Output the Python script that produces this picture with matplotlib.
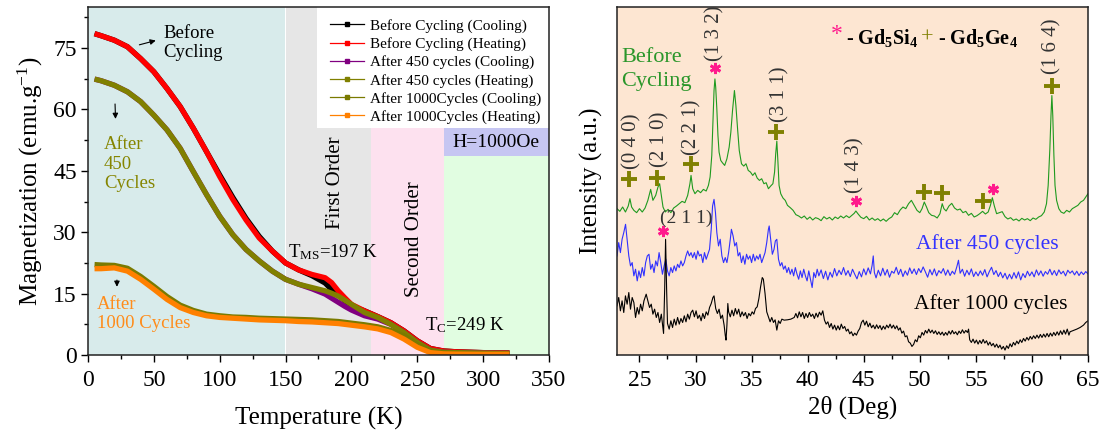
import matplotlib
matplotlib.use('Agg')
import matplotlib.pyplot as plt
from matplotlib.lines import Line2D
from matplotlib.patches import Rectangle
from matplotlib.ticker import MultipleLocator

plt.rcParams['font.family'] = ['Liberation Serif', 'DejaVu Serif']
plt.rcParams['mathtext.fontset'] = 'custom'
plt.rcParams['mathtext.rm'] = 'Liberation Serif'
plt.rcParams['mathtext.it'] = 'Liberation Serif:italic'
plt.rcParams['mathtext.bf'] = 'Liberation Serif:bold'

# ---- M(T) data
temp = [5, 10, 20, 30, 40, 50, 60, 70, 80, 90, 100, 110, 120, 130, 140, 150, 160,
        170, 180, 185, 190, 195, 200, 210, 220, 230, 240, 250, 260, 270, 280, 300, 320]
m_before_cool = [78.5, 78.0, 76.9, 75.3, 72.4, 69.2, 65.1, 60.7, 55.4, 49.7, 44.0, 38.5,
                 33.4, 29.0, 25.4, 22.5, 20.8, 19.4, 17.6, 16.0, 14.6, 13.3, 12.0, 10.8,
                 9.4, 7.9, 5.9, 3.5, 1.6, 1.0, 0.8, 0.6, 0.5]
m_before_heat = [78.5, 78.0, 76.9, 75.3, 72.4, 69.2, 65.1, 60.7, 55.4, 49.7, 43.6, 38.0,
                 33.0, 28.6, 25.4, 22.5, 20.8, 19.7, 18.9, 17.7, 15.7, 14.0, 12.4, 10.8,
                 9.4, 7.9, 5.9, 3.5, 1.6, 1.0, 0.8, 0.6, 0.5]
m_450_cool = [67.4, 67.0, 65.9, 64.3, 61.9, 58.6, 55.0, 50.5, 44.8, 39.2, 33.9, 29.4,
              25.8, 23.0, 20.5, 18.5, 17.3, 16.2, 14.9, 13.9, 12.9, 11.9, 11.0, 9.6,
              8.8, 7.5, 5.5, 3.1, 1.2, 0.7, 0.6, 0.5, 0.4]
m_450_heat = [67.4, 67.0, 65.9, 64.3, 61.9, 58.6, 55.0, 50.5, 44.8, 39.2, 33.9, 29.4,
              25.8, 23.0, 20.5, 18.5, 17.3, 16.5, 15.7, 15.1, 14.4, 13.4, 12.4, 10.4,
              9.2, 7.5, 5.5, 3.1, 1.2, 0.7, 0.6, 0.5, 0.4]
m_1000_cool = [22.1, 22.0, 21.9, 21.2, 19.2, 16.8, 14.3, 12.2, 10.9, 10.0, 9.6, 9.3,
               9.2, 9.0, 8.9, 8.8, 8.7, 8.6, 8.4, 8.3, 8.2, 8.0, 7.8, 7.4, 6.9, 6.0,
               4.7, 2.6, 1.0, 0.5, 0.4, 0.35, 0.3]
m_1000_heat = [21.1, 21.1, 21.3, 20.5, 18.5, 16.1, 13.6, 11.6, 10.4, 9.6, 9.2, 9.0,
               8.8, 8.6, 8.5, 8.4, 8.2, 8.1, 7.9, 7.8, 7.7, 7.5, 7.3, 6.9, 6.4, 5.5,
               3.9, 1.9, 0.6, 0.3, 0.25, 0.2, 0.2]

series_labels = ['Before Cycling (Cooling)', 'Before Cycling (Heating)',
                 'After 450 cycles (Cooling)', 'After 450 cycles (Heating)',
                 'After 1000Cycles (Cooling)', 'After 1000Cycles (Heating)']
series_colors = ['#000000', '#ff0000', '#800080', '#808000', '#7a7a00', '#ff8000']

# ---- XRD data (arbitrary units)
tt_before = [23.0, 23.25, 23.5, 23.75, 24.0, 24.15, 24.3, 24.5, 24.75, 25.0,
             25.25, 25.5, 25.75, 26.0, 26.2, 26.45, 26.65, 26.8, 26.95, 27.1,
             27.3, 27.55, 27.8, 28.05, 28.3, 28.55, 28.8, 29.05, 29.3, 29.5,
             29.6, 29.75, 29.95, 30.2, 30.45, 30.7, 30.95, 31.15, 31.3, 31.45,
             31.55, 31.65, 31.73, 31.8, 31.9, 32.0, 32.1, 32.25, 32.4, 32.6,
             32.8, 33.0, 33.15, 33.3, 33.47, 33.6, 33.75, 33.9, 34.1, 34.3,
             34.5, 34.7, 34.9, 35.1, 35.3, 35.5, 35.7, 35.9, 36.1, 36.3,
             36.5, 36.7, 36.9, 37.05, 37.15, 37.25, 37.35, 37.45, 37.6, 37.8,
             38.0, 38.2, 38.45, 38.7, 38.95, 39.2, 39.45, 39.7, 39.95, 40.2,
             40.45, 40.7, 40.95, 41.2, 41.45, 41.7, 41.95, 42.2, 42.45, 42.7,
             42.95, 43.2, 43.45, 43.7, 43.95, 44.15, 44.3, 44.5, 44.75, 45.0,
             45.25, 45.5, 45.75, 46.0, 46.25, 46.5, 46.75, 47.0, 47.25, 47.5,
             47.75, 48.0, 48.25, 48.5, 48.75, 49.0, 49.25, 49.5, 49.75, 50.0,
             50.2, 50.4, 50.6, 50.8, 51.05, 51.3, 51.55, 51.8, 52.0, 52.15,
             52.35, 52.6, 52.85, 53.1, 53.35, 53.6, 53.85, 54.1, 54.35, 54.6,
             54.85, 55.1, 55.35, 55.6, 55.85, 56.1, 56.3, 56.47, 56.65, 56.85,
             57.1, 57.35, 57.6, 57.85, 58.1, 58.35, 58.6, 58.85, 59.1, 59.35,
             59.6, 59.85, 60.1, 60.35, 60.6, 60.85, 61.1, 61.3, 61.45, 61.6,
             61.7, 61.78, 61.86, 61.96, 62.06, 62.2, 62.4, 62.6, 62.85, 63.1,
             63.35, 63.6, 63.85, 64.1, 64.35, 64.6, 64.8, 65.0]
int_before = [44.0, 43.2, 44.5, 43.0, 44.8, 47.0, 44.5, 43.5, 42.8, 44.0,
              43.0, 44.2, 46.5, 49.8, 46.5, 48.0, 50.5, 51.5, 48.0, 44.5,
              43.0, 43.8, 42.8, 44.2, 44.8, 45.5, 46.2, 45.8, 48.0, 51.5,
              54.0, 50.0, 48.5, 49.5, 48.8, 49.8, 49.3, 51.0, 53.5, 60.0,
              70.0, 79.5, 83.0, 80.5, 74.0, 66.0, 61.0, 58.5, 57.8, 57.0,
              59.0, 62.5, 67.0, 73.5, 79.5, 75.0, 68.0, 61.5, 57.5, 56.8,
              57.5, 55.5, 55.0, 54.0, 54.8, 53.2, 52.5, 53.0, 51.5, 51.8,
              50.0, 50.8, 51.5, 55.0, 60.5, 64.3, 58.0, 51.0, 48.5, 47.2,
              46.5, 45.0, 44.3, 43.5, 42.2, 41.8, 41.2, 41.8, 40.8, 41.5,
              40.6, 41.3, 41.0, 40.4, 41.6, 40.9, 41.4, 40.6, 41.5, 41.0,
              41.8, 41.2, 41.9, 41.3, 42.0, 42.6, 43.3, 42.4, 41.4, 41.0,
              41.7, 40.6, 41.2, 40.5, 41.0, 40.3, 40.9, 40.2, 41.0, 41.5,
              42.8, 42.2, 43.6, 44.5, 44.0, 45.5, 46.5, 45.0, 43.5, 42.8,
              44.0, 46.0, 44.5, 42.8, 42.0, 41.8, 41.2, 42.5, 45.5, 44.0,
              43.3, 44.8, 45.6, 44.2, 43.6, 43.9, 42.8, 43.2, 42.0, 42.6,
              41.5, 41.9, 42.5, 43.2, 42.4, 43.0, 45.0, 47.3, 44.8, 42.5,
              42.8, 43.1, 41.6, 40.9, 41.3, 40.5, 40.9, 40.3, 41.1, 40.6,
              41.0, 40.4, 41.2, 40.8, 41.5, 41.9, 43.0, 45.5, 51.0, 62.0,
              72.0, 78.0, 72.0, 60.0, 51.0, 46.5, 44.0, 43.0, 42.6, 43.5,
              43.0, 44.0, 44.5, 45.0, 46.0, 46.5, 47.5, 48.5]

tt_450 = [23.0, 23.15, 23.3, 23.45, 23.6, 23.76, 23.9, 24.05, 24.2, 24.35,
          24.5, 24.65, 24.8, 24.95, 25.1, 25.25, 25.4, 25.55, 25.7, 25.85,
          26.0, 26.15, 26.3, 26.45, 26.6, 26.75, 26.9, 27.05, 27.2, 27.35,
          27.5, 27.65, 27.8, 27.95, 28.1, 28.25, 28.4, 28.55, 28.7, 28.85,
          29.0, 29.15, 29.3, 29.45, 29.6, 29.75, 29.9, 30.05, 30.2, 30.35,
          30.5, 30.65, 30.8, 30.95, 31.1, 31.25, 31.4, 31.52, 31.65, 31.78,
          31.9, 32.05, 32.2, 32.35, 32.5, 32.65, 32.8, 32.95, 33.1, 33.2,
          33.35, 33.5, 33.65, 33.8, 33.95, 34.1, 34.25, 34.4, 34.55, 34.7,
          34.85, 35.0, 35.15, 35.3, 35.45, 35.6, 35.75, 35.9, 36.05, 36.2,
          36.35, 36.5, 36.57, 36.7, 36.85, 37.0, 37.12, 37.25, 37.4, 37.55,
          37.7, 37.85, 38.0, 38.15, 38.3, 38.45, 38.6, 38.75, 38.9, 39.05,
          39.2, 39.35, 39.5, 39.65, 39.8, 39.95, 40.1, 40.25, 40.4, 40.55,
          40.7, 40.85, 41.0, 41.2, 41.4, 41.6, 41.8, 42.0, 42.2, 42.4,
          42.6, 42.8, 43.0, 43.2, 43.4, 43.6, 43.8, 44.0, 44.2, 44.4,
          44.6, 44.8, 45.0, 45.2, 45.4, 45.6, 45.75, 45.85, 45.95, 46.1,
          46.3, 46.5, 46.7, 46.9, 47.1, 47.3, 47.5, 47.7, 47.9, 48.1,
          48.3, 48.5, 48.7, 48.9, 49.1, 49.3, 49.5, 49.7, 49.9, 50.1,
          50.3, 50.5, 50.7, 50.9, 51.1, 51.3, 51.5, 51.7, 51.9, 52.1,
          52.3, 52.5, 52.7, 52.9, 53.1, 53.3, 53.45, 53.6, 53.8, 54.0,
          54.2, 54.4, 54.6, 54.8, 55.0, 55.2, 55.4, 55.6, 55.8, 56.0,
          56.2, 56.4, 56.6, 56.8, 57.0, 57.2, 57.4, 57.6, 57.8, 58.0,
          58.2, 58.4, 58.6, 58.8, 59.0, 59.2, 59.4, 59.6, 59.8, 60.0,
          60.2, 60.4, 60.6, 60.8, 61.0, 61.2, 61.4, 61.6, 61.8, 62.0,
          62.2, 62.4, 62.6, 62.8, 63.0, 63.2, 63.4, 63.6, 63.8, 64.0,
          64.2, 64.4, 64.6, 64.8, 65.0]
int_450 = [29.8, 33.8, 30.8, 34.8, 36.8, 39.3, 34.8, 29.8, 26.8, 27.8,
           23.8, 25.8, 22.3, 25.3, 23.3, 26.3, 23.8, 27.8, 29.8, 30.3,
           25.8, 27.3, 24.8, 28.3, 26.8, 30.8, 27.8, 24.3, 26.8, 28.8,
           25.3, 23.8, 26.3, 24.8, 26.8, 25.3, 27.3, 26.3, 28.3, 26.8,
           27.8, 29.8, 31.3, 29.8, 30.8, 29.3, 30.8, 28.8, 31.3, 29.8,
           30.3, 27.8, 30.8, 28.8, 30.3, 31.8, 37.8, 44.8, 46.8, 42.8,
           36.8, 32.8, 34.8, 29.8, 27.8, 29.3, 27.8, 30.8, 34.8, 37.8,
           35.8, 32.8, 33.8, 29.8, 30.8, 27.8, 29.8, 27.3, 30.3, 28.8,
           29.8, 27.8, 30.3, 28.3, 29.8, 28.8, 30.3, 27.8, 29.3, 30.8,
           33.8, 37.8, 38.8, 34.8, 30.3, 31.8, 34.3, 34.8, 28.8, 26.8,
           27.8, 25.8, 26.8, 24.8, 26.3, 24.3, 25.8, 23.8, 26.3, 24.3,
           22.8, 25.3, 23.3, 25.8, 23.8, 22.3, 25.3, 22.8, 20.3, 24.8,
           23.3, 25.8, 23.8, 25.6, 23.0, 25.2, 22.6, 24.9, 23.4, 26.0,
           23.8, 25.5, 24.2, 26.3, 24.0, 25.4, 23.6, 25.8, 24.3, 22.9,
           25.1, 23.5, 25.9, 24.1, 26.2, 24.4, 27.0, 29.8, 24.8, 23.2,
           25.5, 23.8, 26.1, 24.0, 25.7, 23.4, 25.2, 24.6, 26.4, 24.2,
           25.8, 23.6, 25.3, 24.0, 26.2, 24.5, 25.9, 24.2, 26.0, 24.8,
           26.5, 25.0, 23.4, 25.7, 24.1, 25.9, 23.8, 25.4, 24.6, 26.0,
           24.0, 25.6, 23.9, 25.2, 24.3, 26.5, 28.5, 24.6, 25.8, 23.7,
           25.5, 24.1, 25.9, 23.6, 25.0, 23.8, 25.3, 24.0, 25.7, 23.5,
           25.1, 26.4, 24.2, 25.4, 23.6, 24.9, 23.2, 24.6, 22.8, 24.3,
           22.9, 24.8, 23.1, 25.0, 22.6, 24.5, 23.3, 25.2, 23.8, 25.0,
           23.5, 25.6, 24.0, 25.3, 23.7, 25.1, 24.3, 25.8, 24.1, 25.4,
           23.9, 25.6, 24.4, 25.2, 23.8, 25.5, 24.6, 25.3, 24.1, 25.2,
           23.9, 25.0, 24.2, 25.1, 24.4]

tt_1000 = [23.0, 23.15, 23.3, 23.45, 23.6, 23.75, 23.9, 24.05, 24.2, 24.35,
           24.5, 24.65, 24.8, 24.95, 25.1, 25.25, 25.4, 25.6, 25.75, 25.9,
           26.05, 26.2, 26.35, 26.5, 26.65, 26.8, 26.95, 27.15, 27.25, 27.33,
           27.42, 27.5, 27.65, 27.8, 27.95, 28.1, 28.25, 28.4, 28.55, 28.7,
           28.85, 29.0, 29.15, 29.3, 29.45, 29.6, 29.75, 29.9, 30.05, 30.2,
           30.35, 30.5, 30.65, 30.8, 30.95, 31.1, 31.25, 31.4, 31.55, 31.65,
           31.8, 31.95, 32.1, 32.25, 32.4, 32.55, 32.65, 32.72, 32.8, 32.88,
           32.95, 33.1, 33.25, 33.4, 33.55, 33.7, 33.85, 34.0, 34.15, 34.3,
           34.45, 34.6, 34.75, 34.9, 35.05, 35.2, 35.35, 35.5, 35.65, 35.8,
           35.95, 36.05, 36.2, 36.35, 36.5, 36.65, 36.8, 36.95, 37.1, 37.25,
           37.4, 37.55, 37.7, 37.9, 38.2, 38.5, 38.8, 38.95, 39.1, 39.25,
           39.4, 39.55, 39.7, 39.85, 40.0, 40.15, 40.3, 40.45, 40.6, 40.75,
           40.9, 41.05, 41.2, 41.35, 41.5, 41.65, 41.8, 41.95, 42.1, 42.25,
           42.4, 42.55, 42.7, 42.85, 43.0, 43.15, 43.3, 43.45, 43.6, 43.75,
           43.9, 44.05, 44.2, 44.35, 44.5, 44.65, 44.8, 44.95, 45.1, 45.25,
           45.4, 45.55, 45.7, 45.85, 46.0, 46.15, 46.3, 46.45, 46.6, 46.75,
           46.9, 47.05, 47.2, 47.35, 47.5, 47.65, 47.8, 47.95, 48.1, 48.25,
           48.4, 48.55, 48.7, 48.85, 49.0, 49.15, 49.3, 49.45, 49.6, 49.75,
           49.9, 50.05, 50.2, 50.35, 50.5, 50.65, 50.8, 50.95, 51.1, 51.25,
           51.4, 51.55, 51.7, 51.85, 52.0, 52.15, 52.3, 52.45, 52.6, 52.75,
           52.9, 53.05, 53.2, 53.35, 53.5, 53.65, 53.8, 53.95, 54.1, 54.25,
           54.35, 54.45, 54.6, 54.75, 54.9, 55.05, 55.2, 55.35, 55.5, 55.65,
           55.8, 55.95, 56.1, 56.25, 56.4, 56.55, 56.7, 56.85, 57.0, 57.15,
           57.3, 57.45, 57.6, 57.75, 57.9, 58.05, 58.2, 58.35, 58.5, 58.65,
           58.8, 58.95, 59.1, 59.25, 59.4, 59.55, 59.7, 59.85, 60.0, 60.15,
           60.3, 60.45, 60.6, 60.75, 60.9, 61.05, 61.2, 61.35, 61.5, 61.65,
           61.8, 61.95, 62.1, 62.25, 62.4, 62.55, 62.7, 62.85, 63.0, 63.15,
           63.3, 63.4, 63.7, 64.0, 64.3, 64.6, 64.8, 65.0]
int_1000 = [14.8, 17.3, 13.3, 16.3, 12.8, 17.8, 15.3, 18.8, 13.8, 17.3,
            15.8, 11.3, 14.3, 12.3, 15.3, 13.3, 16.3, 18.3, 16.3, 14.3,
            15.3, 12.3, 13.8, 11.3, 12.8, 9.8, 12.3, 6.5, 20.0, 34.8,
            20.0, 9.5, 7.8, 10.3, 8.3, 10.8, 9.0, 11.3, 9.3, 11.0,
            9.8, 11.8, 10.0, 12.3, 10.8, 12.8, 13.5, 11.5, 13.3, 11.0,
            12.0, 10.3, 12.5, 11.0, 13.0, 12.0, 14.3, 15.5, 17.3, 17.8,
            14.0, 12.5, 13.8, 11.0, 12.0, 9.0, 6.0, 4.5, 9.0, 15.5,
            13.0, 11.5, 13.5, 11.8, 14.0, 12.3, 13.8, 11.5, 13.0, 11.8,
            12.8, 11.0, 12.5, 11.8, 13.0, 12.3, 14.0, 14.5, 17.0, 20.5,
            23.3, 22.8, 18.5, 13.0, 11.5, 10.0, 11.3, 9.8, 10.6, 7.5,
            10.3, 9.5, 10.8, 10.5, 10.6, 10.8, 11.3, 12.5, 11.2, 13.0,
            11.5, 12.8, 11.0, 12.5, 11.3, 12.8, 11.6, 12.3, 11.0, 12.6,
            11.4, 12.9, 12.0, 13.3, 10.5, 9.3, 10.0, 8.3, 9.5, 7.8,
            9.0, 7.5, 8.8, 7.6, 9.3, 8.0, 8.6, 7.2, 7.8, 6.4,
            7.0, 5.8, 6.6, 6.0, 7.2, 8.0, 9.8, 10.5, 9.0, 10.2,
            8.5, 9.6, 8.2, 9.0, 7.9, 9.1, 8.0, 8.9, 7.6, 8.7,
            7.8, 9.0, 8.2, 9.3, 8.1, 9.0, 7.9, 8.8, 7.5, 8.2,
            6.6, 7.2, 5.5, 5.8, 4.0, 3.6, 2.6, 3.2, 4.6, 4.0,
            5.8, 5.2, 6.8, 6.0, 7.4, 6.6, 7.8, 6.7, 7.5, 6.5,
            7.3, 6.2, 7.0, 6.1, 6.9, 5.9, 6.8, 6.0, 7.2, 6.3,
            7.4, 6.4, 7.0, 6.1, 7.2, 6.5, 7.6, 6.6, 7.4, 6.8,
            7.8, 4.6, 3.8, 4.8, 3.6, 4.5, 3.3, 4.4, 3.5, 4.7,
            3.6, 4.3, 3.0, 3.9, 2.8, 3.5, 2.4, 3.3, 2.2, 3.0,
            1.8, 2.6, 1.5, 2.8, 2.0, 3.4, 2.5, 3.8, 3.0, 4.2,
            3.4, 4.6, 3.8, 5.0, 4.2, 5.3, 4.5, 5.6, 4.8, 5.8,
            5.0, 6.0, 5.1, 6.2, 5.3, 6.3, 5.4, 6.5, 5.5, 6.6,
            5.7, 6.8, 5.9, 7.0, 6.0, 7.3, 6.2, 7.5, 6.3, 7.8,
            6.0, 7.0, 7.4, 7.8, 8.3, 9.0, 9.8, 10.3]

# phase markers
si_tt = [27.1, 31.73, 44.3, 56.5]
si_int = [37.3, 86.3, 46.3, 50.0]
ge_tt = [24.1, 26.6, 29.6, 37.2, 50.4, 52.0, 55.6, 61.8]
ge_int = [52.8, 53.3, 57.5, 67.1, 49.0, 48.6, 46.3, 80.8]

hkl_labels = ['(0 4 0)', '(2 1 0)', '(2 2 1)', '(1 3 2)', '(3 1 1)', '(1 4 3)', '(1 6 4)']
hkl_tt = [24.35, 26.8, 29.65, 31.75, 37.55, 44.25, 61.8]
hkl_int = [56.0, 56.5, 60.2, 88.5, 70.2, 48.8, 84.5]

fig = plt.figure(figsize=(11.05, 4.4), dpi=100)
ax1 = fig.add_axes([0.0796, 0.193, 0.4172, 0.791])
ax2 = fig.add_axes([0.5584, 0.193, 0.4262, 0.791])

# ================= left: M(T)
ax1.axvspan(0, 149.6, color='#d8ebeb', lw=0, zorder=0)
ax1.axvspan(150.4, 215, color='#e6e6e6', lw=0, zorder=0)
ax1.add_patch(Rectangle((215, 0), 55, 85, color='#fde1ef', lw=0, zorder=0))
ax1.add_patch(Rectangle((270, 0), 80, 48.5, color='#e1fde1', lw=0, zorder=0))
ax1.add_patch(Rectangle((270, 48.5), 80, 7, color='#c6c6f2', lw=0, zorder=0))
ax1.add_patch(Rectangle((174, 55.5), 176, 29.5, color='white', lw=0, zorder=0.5))

curves = [m_before_cool, m_before_heat, m_450_cool, m_450_heat, m_1000_cool, m_1000_heat]
for m, c in zip(curves, series_colors):
    ax1.plot(temp, m, color=c, lw=3.8, solid_capstyle='butt', solid_joinstyle='round',
             zorder=2)

handles = [Line2D([], [], color=c, lw=0.9, marker='s', ms=3) for c in series_colors]
ax1.legend(handles, series_labels, loc='upper left', bbox_to_anchor=(0.525, 0.966),
           frameon=False, fontsize=11, handlelength=2.2, handletextpad=0.4,
           labelspacing=0.28, borderpad=0, borderaxespad=0)

ax1.text(57, 76.3, 'Before\nCycling', fontsize=13.5, ha='left', va='center', linespacing=1.15)
ax1.annotate('', xy=(53.5, 77), xytext=(37, 75.6),
             arrowprops=dict(arrowstyle='-|>', color='black', lw=0.8, mutation_scale=8))
ax1.text(12, 46.6, 'After\n450\nCycles', fontsize=13.5, color='#858500', ha='left',
         va='center', linespacing=1.2)
ax1.annotate('', xy=(21, 57), xytext=(20.5, 62),
             arrowprops=dict(arrowstyle='-|>', color='black', lw=0.8, mutation_scale=8))
ax1.text(6.5, 10, 'After\n1000 Cycles', fontsize=13.5, color='#ff8c1a', ha='left',
         va='center', linespacing=1.2)
ax1.annotate('', xy=(22, 16), xytext=(22, 19),
             arrowprops=dict(arrowstyle='-|>', color='black', lw=0.8, mutation_scale=8))
ax1.text(188, 42, 'First Order', fontsize=15, rotation=90, ha='center', va='center')
ax1.text(248, 28.2, 'Second Order', fontsize=15, rotation=90, ha='center', va='center')
ax1.text(152, 25.1, r'T$_{\mathrm{MS}}$=197 K', fontsize=13.5, ha='left', va='center')
ax1.text(256, 7.3, r'T$_{\mathrm{C}}$=249 K', fontsize=13.5, ha='left', va='center')
ax1.text(310, 52, 'H=1000Oe', fontsize=14, ha='center', va='center')

ax1.set_xlim(0, 350)
ax1.set_ylim(0, 85)
ax1.xaxis.set_major_locator(MultipleLocator(50))
ax1.xaxis.set_minor_locator(MultipleLocator(25))
ax1.yaxis.set_major_locator(MultipleLocator(15))
ax1.yaxis.set_minor_locator(MultipleLocator(7.5))
ax1.set_xlabel('Temperature (K)', fontsize=18, labelpad=11)
ax1.set_ylabel(r'Magnetization (emu.g$^{-1}$)', fontsize=18, labelpad=6)

# ================= right: XRD
ax2.set_facecolor('#fde6d2')
ax2.plot(tt_before, int_before, color='#1f9a1f', lw=0.8)
ax2.plot(tt_450, int_450, color='#3030ff', lw=0.8)
ax2.plot(tt_1000, int_1000, color='#000000', lw=0.8)
ax2.plot(si_tt, si_int, ls='none', marker=(6, 2, 0), ms=8, mew=2, color='#ff1a8c')
ax2.plot(ge_tt, ge_int, ls='none', marker='+', ms=11, mew=2.8, color='#808000')

for lab, x, y in zip(hkl_labels, hkl_tt, hkl_int):
    ax2.text(x, y, lab, rotation=90, ha='center', va='bottom', fontsize=15, color='#333333')
ax2.text(29.2, 41.0, '(2 1 1)', ha='center', va='center', fontsize=14, color='#333333')

ax2.text(23.35, 85.8, 'Before\nCycling', color='#2a962a', fontsize=16, ha='left',
         va='center', linespacing=1.3)
ax2.text(62.4, 33.3, 'After 450 cycles', color='#3333ff', fontsize=15.5, ha='right',
         va='center')
ax2.text(63.2, 15.3, 'After 1000 cycles', color='black', fontsize=15.5, ha='right',
         va='center')

ax2.text(42.6, 96.3, '*', color='#ff1a8c', fontsize=17, ha='center', va='center')
ax2.text(43.4, 95.2, r'- Gd$_\mathbf{5}$Si$_\mathbf{4}$', fontsize=14.5, fontweight='bold',
         ha='left', va='center')
ax2.text(50.7, 95.2, '+', color='#808000', fontsize=16, ha='center', va='center')
ax2.text(51.6, 95.2, r'- Gd$_\mathbf{5}$Ge$_\mathbf{4}$', fontsize=14.5, fontweight='bold',
         ha='left', va='center')

ax2.set_xlim(23, 65)
ax2.set_ylim(0, 104.6)
ax2.xaxis.set_major_locator(MultipleLocator(5))
ax2.xaxis.set_minor_locator(MultipleLocator(2.5))
ax2.set_yticks([])
ax2.set_xlabel('2θ (Deg)', fontsize=18, labelpad=3)
ax2.set_ylabel('Intensity (a.u.)', fontsize=18, labelpad=10)

for ax in (ax1, ax2):
    for s in ax.spines.values():
        s.set_linewidth(1.1)
        s.set_color('#222222')
    ax.tick_params(which='major', direction='out', length=5, width=1, labelsize=17, pad=3,
                   top=False, right=False)
    ax.tick_params(which='minor', direction='out', length=3, width=1, top=False, right=False)
    ax.tick_params(axis='x', which='major', pad=6)

plt.savefig('out.png', dpi=100)
plt.close()
